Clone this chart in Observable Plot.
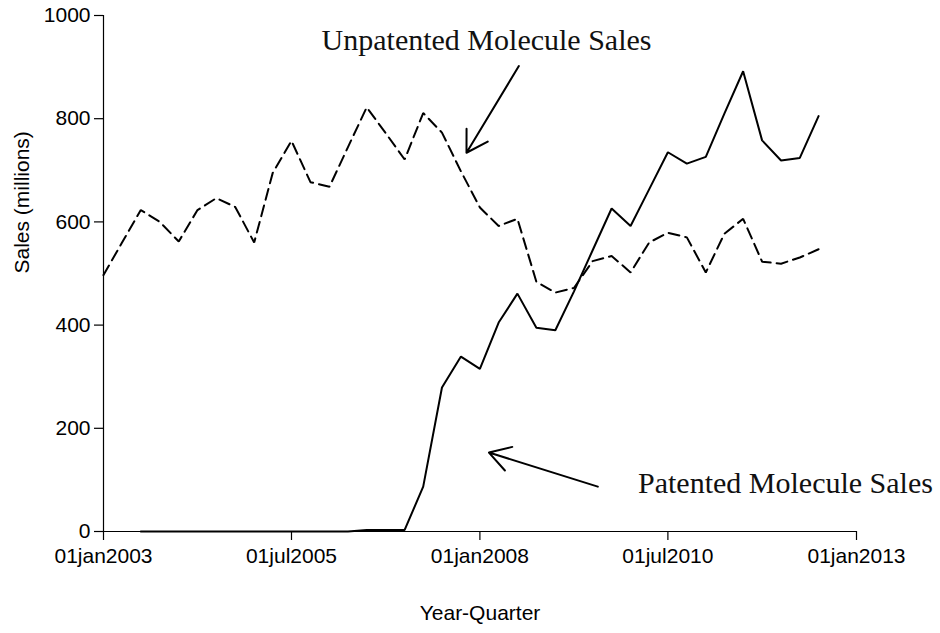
<!DOCTYPE html>
<html>
<head>
<meta charset="utf-8">
<script src="https://cdn.jsdelivr.net/npm/d3@7"></script>
<script src="https://cdn.jsdelivr.net/npm/@observablehq/plot@0.6"></script>
<style>
  html, body { margin: 0; padding: 0; background: white; }
</style>
</head>
<body>
<div id="chart"></div>
<script>
// Quarterly dates (start of each quarter)
const quarters = [
  "2003-01-01","2003-04-01","2003-07-01","2003-10-01",
  "2004-01-01","2004-04-01","2004-07-01","2004-10-01",
  "2005-01-01","2005-04-01","2005-07-01","2005-10-01",
  "2006-01-01","2006-04-01","2006-07-01","2006-10-01",
  "2007-01-01","2007-04-01","2007-07-01","2007-10-01",
  "2008-01-01","2008-04-01","2008-07-01","2008-10-01",
  "2009-01-01","2009-04-01","2009-07-01","2009-10-01",
  "2010-01-01","2010-04-01","2010-07-01","2010-10-01",
  "2011-01-01","2011-04-01","2011-07-01","2011-10-01",
  "2012-01-01","2012-04-01","2012-07-01"
];

// Unpatented molecule sales (millions), dashed line
const unpatented = [
  497, 560, 623, 600,
  562, 623, 646, 629,
  560, 695, 757, 677,
  668, 745, 822, 772,
  721, 811, 773, 698,
  628, 592, 606, 484,
  463, 472, 524, 534,
  502, 560, 579, 570,
  502, 577, 606, 523,
  519, 531, 547
];

// Patented molecule sales (millions), solid line
const patented = [
  null, null, 0, 0,
  0, 0, 0, 0,
  0, 0, 0, 0,
  0, 0, 3, 3,
  3, 87, 279, 339,
  315, 405, 461, 395,
  390, 465, 545, 626,
  592, 663, 735, 713,
  726, 810, 892, 758,
  719, 724, 805
];

const yTicks = [0, 200, 400, 600, 800, 1000];
const xTickDates = ["2003-01-01", "2005-07-01", "2008-01-01", "2010-07-01", "2013-01-01"];
const xTickLabels = ["01jan2003", "01jul2005", "01jan2008", "01jul2010", "01jan2013"];
const xDomain = ["2003-01-01", "2013-01-01"];
const yDomain = [0, 1000];

const xTitle = "Year-Quarter";
const yTitle = "Sales (millions)";

// Annotations
const noteLabels = ["Unpatented Molecule Sales", "Patented Molecule Sales"];
const noteX = ["2005-11-24", "2010-02-06"];
const noteY = [951, 94];

const arrowFromX = ["2008-07-08", "2009-07-26"];
const arrowFromY = [902, 87];
const arrowToX = ["2007-10-28", "2008-02-14"];
const arrowToY = [734, 153];

// Build tables
const toDate = s => new Date(s);
const seriesUnpat = quarters.map((q, i) => ({date: toDate(q), value: unpatented[i]}));
const seriesPat = quarters.map((q, i) => ({date: toDate(q), value: patented[i]}))
  .filter(d => d.value !== null);
const notes = noteLabels.map((t, i) => ({text: t, x: toDate(noteX[i]), y: noteY[i]}));
const arrows = arrowFromX.map((x, i) => ({
  x1: toDate(x), y1: arrowFromY[i], x2: toDate(arrowToX[i]), y2: arrowToY[i]
}));
const xTicks = xTickDates.map(toDate);

const chart = Plot.plot({
  width: 940,
  height: 633,
  marginLeft: 103,
  marginRight: 84,
  marginTop: 15,
  marginBottom: 102,
  style: {
    fontFamily: "'Liberation Sans', Arial, Helvetica, sans-serif",
    fontSize: "21px",
    background: "white",
    color: "black"
  },
  x: {type: "utc", domain: xDomain.map(toDate)},
  y: {domain: yDomain},
  marks: [
    Plot.axisX({
      ticks: xTicks,
      tickFormat: d => xTickLabels[xTicks.findIndex(t => +t === +d)],
      tickSize: 9,
      tickPadding: 8,
      label: null,
      stroke: "black",
      strokeWidth: 1.2
    }),
    Plot.axisY({
      ticks: yTicks,
      tickFormat: d => String(d),
      tickSize: 9,
      tickPadding: 4,
      label: null,
      stroke: "black",
      strokeWidth: 1.2
    }),
    Plot.ruleY([0], {stroke: "black", strokeWidth: 1.2}),
    Plot.ruleX([toDate(xDomain[0])], {y1: yDomain[0], y2: yDomain[1], stroke: "black", strokeWidth: 1.2}),
    Plot.text([xTitle], {frameAnchor: "bottom", dy: 88, fontSize: 21}),
    Plot.text([yTitle], {frameAnchor: "left", dx: -81.5, rotate: -90, fontSize: 21}),
    Plot.line(seriesUnpat, {
      x: "date", y: "value", stroke: "black", strokeWidth: 2,
      strokeDasharray: "11,6", strokeLinejoin: "miter"
    }),
    Plot.line(seriesPat, {
      x: "date", y: "value", stroke: "black", strokeWidth: 2,
      strokeLinejoin: "miter"
    }),
    Plot.text(notes, {
      x: "x", y: "y", text: "text", textAnchor: "start", lineAnchor: "middle",
      fontFamily: "'Liberation Serif', 'Times New Roman', serif", fontSize: 30,
      fill: "#111"
    }),
    Plot.arrow(arrows, {
      x1: "x1", y1: "y1", x2: "x2", y2: "y2",
      stroke: "black", strokeWidth: 2, headLength: 18, headAngle: 62
    })
  ]
});

document.getElementById("chart").appendChild(chart);
</script>
</body>
</html>
